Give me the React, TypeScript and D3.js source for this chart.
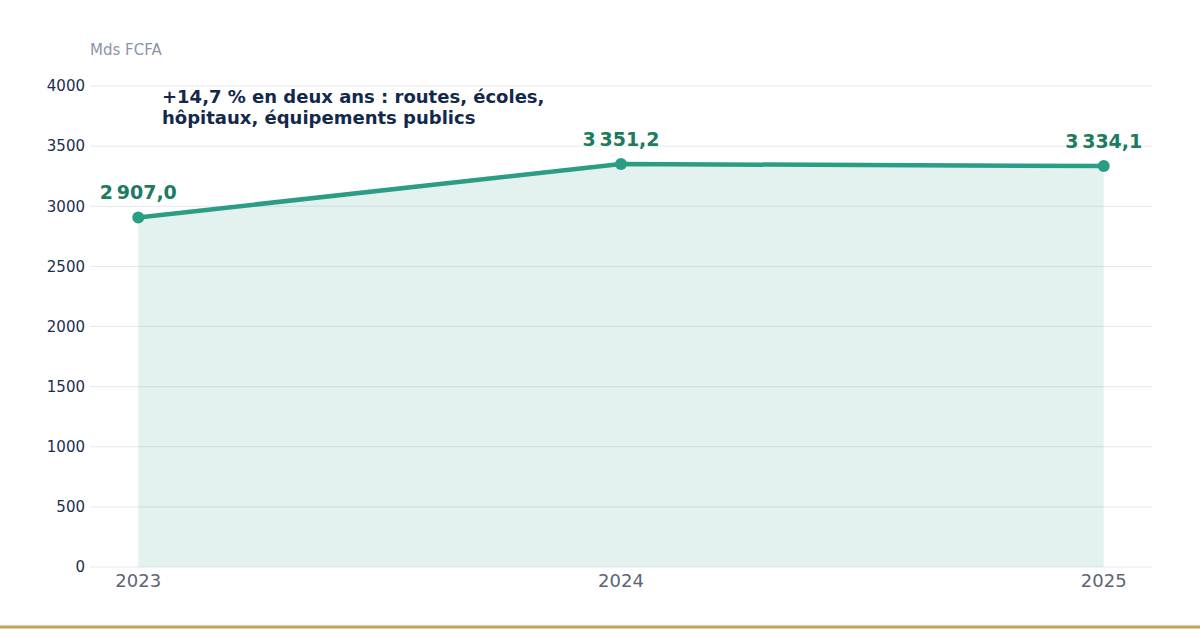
import React from "react";
import * as d3 from "d3";

const years = ["2023", "2024", "2025"];
const values = [2907.0, 3351.2, 3334.1];
const yTicks = [0, 500, 1000, 1500, 2000, 2500, 3000, 3500, 4000];
const unitLabel = "Mds FCFA";
const annotationLines = ["+14,7 % en deux ans : routes, écoles,", "hôpitaux, équipements publics"];

const W = 1200;
const H = 630;
const M = { left: 90, right: 48, top: 86, bottom: 63 };

function fmt(v: number): string {
  const s = v.toFixed(1).split(".");
  const int = s[0].replace(/\B(?=(\d{3})+(?!\d))/g, "\u202F");
  return int + "," + s[1];
}

export default function App() {
  const x = d3.scalePoint<string>().domain(years).range([M.left, W - M.right]).padding(0.1);
  const y = d3.scaleLinear().domain([0, 4000]).range([H - M.bottom, M.top]);
  const pts = years.map((yr, i) => ({ yr, v: values[i] }));
  const line = d3.line<{ yr: string; v: number }>().x((d) => x(d.yr)!).y((d) => y(d.v));
  const area = d3
    .area<{ yr: string; v: number }>()
    .x((d) => x(d.yr)!)
    .y0(y(0))
    .y1((d) => y(d.v));
  const font = "'DejaVu Sans', sans-serif";
  return (
    <svg
      width={W}
      height={H}
      style={{ position: "absolute", left: 0, top: 0, background: "#fff" }}
      fontFamily={font}
    >
      <text x={M.left} y={55} fontSize={15} fill="#8b94aa">
        {unitLabel}
      </text>
      {yTicks.map((t) => (
        <g key={t}>
          <line x1={M.left} x2={W - M.right} y1={y(t)} y2={y(t)} stroke="#e6e8ef" strokeWidth={1} />
          <text x={85} y={y(t)} dy="0.35em" textAnchor="end" fontSize={15} fill="#1c2e4f">
            {t}
          </text>
        </g>
      ))}
      <path d={area(pts)!} fill="#2a9d84" fillOpacity={0.13} />
      <path d={line(pts)!} fill="none" stroke="#2a9d84" strokeWidth={4.5} strokeLinejoin="round" />
      {pts.map((d) => (
        <circle key={d.yr} cx={x(d.yr)!} cy={y(d.v)} r={6} fill="#2a9d84" />
      ))}
      {pts.map((d) => (
        <text
          key={"l" + d.yr}
          x={x(d.yr)!}
          y={y(d.v) - 18}
          textAnchor="middle"
          fontSize={19}
          fontWeight="bold"
          fill="#1e7a60"
          letterSpacing={0.5}
        >
          {fmt(d.v)}
        </text>
      ))}
      {years.map((yr) => (
        <text key={"x" + yr} x={x(yr)!} y={587} textAnchor="middle" fontSize={18} fill="#5b6577">
          {yr}
        </text>
      ))}
      {annotationLines.map((l, i) => (
        <text key={i} x={162} y={103} dy={i * 21} fontSize={18} fontWeight="bold" fill="#13294b">
          {l}
        </text>
      ))}
      <line x1={0} x2={W} y1={627} y2={627} stroke="#c9a055" strokeWidth={3} />
    </svg>
  );
}
